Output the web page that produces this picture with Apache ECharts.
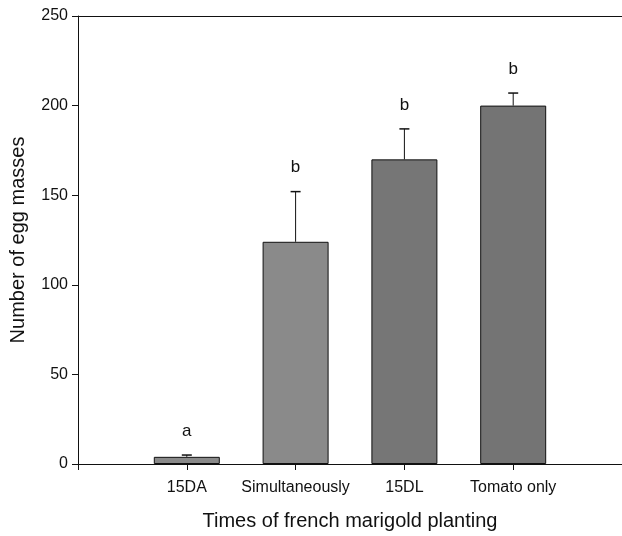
<!DOCTYPE html>
<html>
<head>
    <meta charset="utf-8">
    <title>Egg masses</title>
    <script src="https://cdn.jsdelivr.net/npm/echarts@6/dist/echarts.min.js"></script>
    <style>
        body { margin: 0; background: #fff; }
        #main { width: 622px; height: 536px; }
    </style>
</head>
<body>
<div id="main"></div>
<script type="text/javascript">
    // categories and values
    var categories = ['15DA', 'Simultaneously', '15DL', 'Tomato only'];
    var eggMasses = [4, 124, 170, 200];
    var stdErr = [1, 28, 17, 7];
    var letters = ['a', 'b', 'b', 'b'];
    var yTicks = [0, 50, 100, 150, 200, 250];

    var font = 'Liberation Sans, Arial, sans-serif';
    var barColors = ['#8a8a8a', '#8a8a8a', '#767676', '#747474'];

    var barData = [];
    var errData = [];
    for (var i = 0; i < categories.length; i++) {
        barData.push({ value: [i + 1, eggMasses[i]], itemStyle: { color: barColors[i] } });
        errData.push([i + 1, eggMasses[i], eggMasses[i] + stdErr[i], i]);
    }

    var myChart = echarts.init(document.getElementById('main'));

    var option = {
        animation: false,
        grid: { left: 78, right: 0, top: 16, bottom: 68 },
        xAxis: [{
            type: 'value',
            min: 0,
            max: 5,
            interval: 1,
            name: 'Times of french marigold planting',
            nameLocation: 'middle',
            nameGap: 47,
            nameTextStyle: { fontFamily: font, fontSize: 20, color: '#111' },
            splitLine: { show: false },
            axisLine: { lineStyle: { color: '#111', width: 1 } },
            axisTick: { length: 6, lineStyle: { color: '#111' }, customValues: [0, 1, 2, 3, 4] },
            axisLabel: {
                margin: 16,
                fontFamily: font,
                fontSize: 16,
                color: '#111',
                customValues: [1, 2, 3, 4],
                formatter: function (v) { return categories[v - 1] || ''; }
            }
        }, {
            type: 'value',
            position: 'top',
            min: 0,
            max: 5,
            axisLine: { show: true, lineStyle: { color: '#111', width: 1 } },
            axisTick: { show: false },
            axisLabel: { show: false },
            splitLine: { show: false }
        }],
        yAxis: {
            type: 'value',
            min: 0,
            max: 250,
            interval: 50,
            name: 'Number of egg masses',
            nameLocation: 'middle',
            nameGap: 50,
            nameTextStyle: { fontFamily: font, fontSize: 20, color: '#111' },
            splitLine: { show: false },
            axisLine: { show: true, lineStyle: { color: '#111', width: 1 } },
            axisTick: { show: true, length: 6, lineStyle: { color: '#111' } },
            axisLabel: {
                margin: 10,
                fontFamily: font,
                fontSize: 16,
                color: '#111',
                formatter: function (v) { return yTicks.indexOf(v) >= 0 ? String(v) : ''; }
            }
        },
        series: [{
            type: 'bar',
            barWidth: 66,
            data: barData,
            itemStyle: { borderColor: '#111', borderWidth: 1 }
        }, {
            type: 'custom',
            data: errData,
            z: 3,
            renderItem: function (params, api) {
                var x = api.value(0);
                var top = api.coord([x, api.value(2)]);
                var base = api.coord([x, api.value(1)]);
                var idx = api.value(3);
                return {
                    type: 'group',
                    children: [{
                        type: 'line',
                        shape: { x1: top[0], y1: top[1], x2: base[0], y2: base[1] },
                        style: { stroke: '#111', lineWidth: 1 }
                    }, {
                        type: 'line',
                        shape: { x1: top[0] - 5, y1: top[1], x2: top[0] + 5, y2: top[1] },
                        style: { stroke: '#111', lineWidth: 1.5 }
                    }, {
                        type: 'text',
                        style: {
                            x: top[0],
                            y: top[1] - 24,
                            text: letters[idx],
                            fontFamily: font,
                            fontSize: 17,
                            fill: '#111',
                            align: 'center',
                            verticalAlign: 'middle'
                        }
                    }]
                };
            }
        }]
    };

    myChart.setOption(option);
</script>
</body>
</html>
